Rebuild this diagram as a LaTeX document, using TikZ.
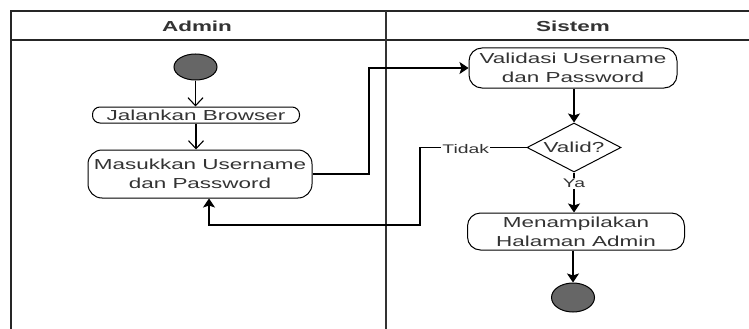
\documentclass[tikz,border=0pt]{standalone}
\usepackage{fontspec}
\setmainfont[FakeStretch=1.55]{Liberation Sans}
\usetikzlibrary{arrows.meta,shapes.geometric}

\definecolor{ink}{HTML}{333333}
\definecolor{dot}{HTML}{666666}

\begin{document}
\begin{tikzpicture}[x=1pt,y=-1pt,
  lane/.style={line width=1.3pt, draw=black!85},
  hdr/.style={font=\bfseries\fontsize{14.5}{16}\selectfont, text=ink},
  act/.style={draw, line width=1pt, rounded corners=#1, align=center, inner sep=0pt,
    text=ink, font=\fontsize{14.5}{19}\selectfont},
  dec/.style={draw, diamond, line width=1pt, aspect=1.92, inner sep=0pt,
    text=ink, font=\fontsize{14.5}{19}\selectfont},
  blob/.style={draw, ellipse, fill=dot, line width=1pt, inner sep=0pt},
  flow/.style={line width=1.1pt, -{Stealth[length=9pt,width=12pt,inset=2pt]}},
  openflow/.style={line width=1.1pt, -{Straight Barb[length=8pt,width=15pt]}},
  lbl/.style={fill=white, inner sep=1pt, text=ink, font=\fontsize{12.5}{14}\selectfont}]
\useasboundingbox (0,0) rectangle (749,329);

% swimlane frame
\draw[lane] (11,340) -- (11,11) -- (760,11);
\draw[lane] (11,40) -- (760,40);
\draw[line width=2.2pt, draw=black!80] (386,11) -- (386,340);
\node[hdr] (hadmin) at (197,26) {Admin};
\node[hdr] (hsistem) at (573,26) {Sistem};

% Admin lane
\node[blob, minimum width=43pt, minimum height=26pt] (start) at (195.5,67) {};
\node[act=7.5pt, minimum width=207pt, minimum height=16pt] (jb) at (196,115) {Jalankan Browser};
\node[act=14pt, minimum width=224pt, minimum height=48pt] (mu) at (200,174) {Masukkan Username\\dan Password};

% Sistem lane
\node[act=13pt, minimum width=208pt, minimum height=40pt] (va) at (573,68) {Validasi Username\\dan Password};
\node[dec, minimum width=94pt, minimum height=49pt] (vd) at (574,147.5) {Valid?};
\node[act=13pt, minimum width=217pt, minimum height=37pt] (mh) at (576,231.5) {Menampilakan\\Halaman Admin};
\node[blob, minimum width=43pt, minimum height=29pt] (stop) at (573,297.5) {};

% bend points
\coordinate (c1) at (369,174);
\coordinate (c2) at (369,68);
\coordinate (c3) at (420,147.5);
\coordinate (c4) at (420,225);
\coordinate (c5) at (209,225);

% connectors
\draw[openflow] (start) -- (start |- jb.north);
\draw[openflow] (jb) -- (jb |- mu.north);
\draw[flow] (mu.east) -- (c1) -- (c2) -- (va.west);
\draw[flow] (va.south -| vd.north) -- (vd.north);
\draw[flow] (vd.south) -- node[lbl, pos=0.27] (ya) {Ya} (vd.south |- mh.north);
\draw[flow] (vd.west) -- node[lbl, pos=0.57, yshift=-2pt] (tidak) {Tidak} (c3) -- (c4) -- (c5) -- (c5 |- mu.south);
\draw[flow] (mh.south -| stop.north) -- (stop.north);
\end{tikzpicture}
\end{document}
